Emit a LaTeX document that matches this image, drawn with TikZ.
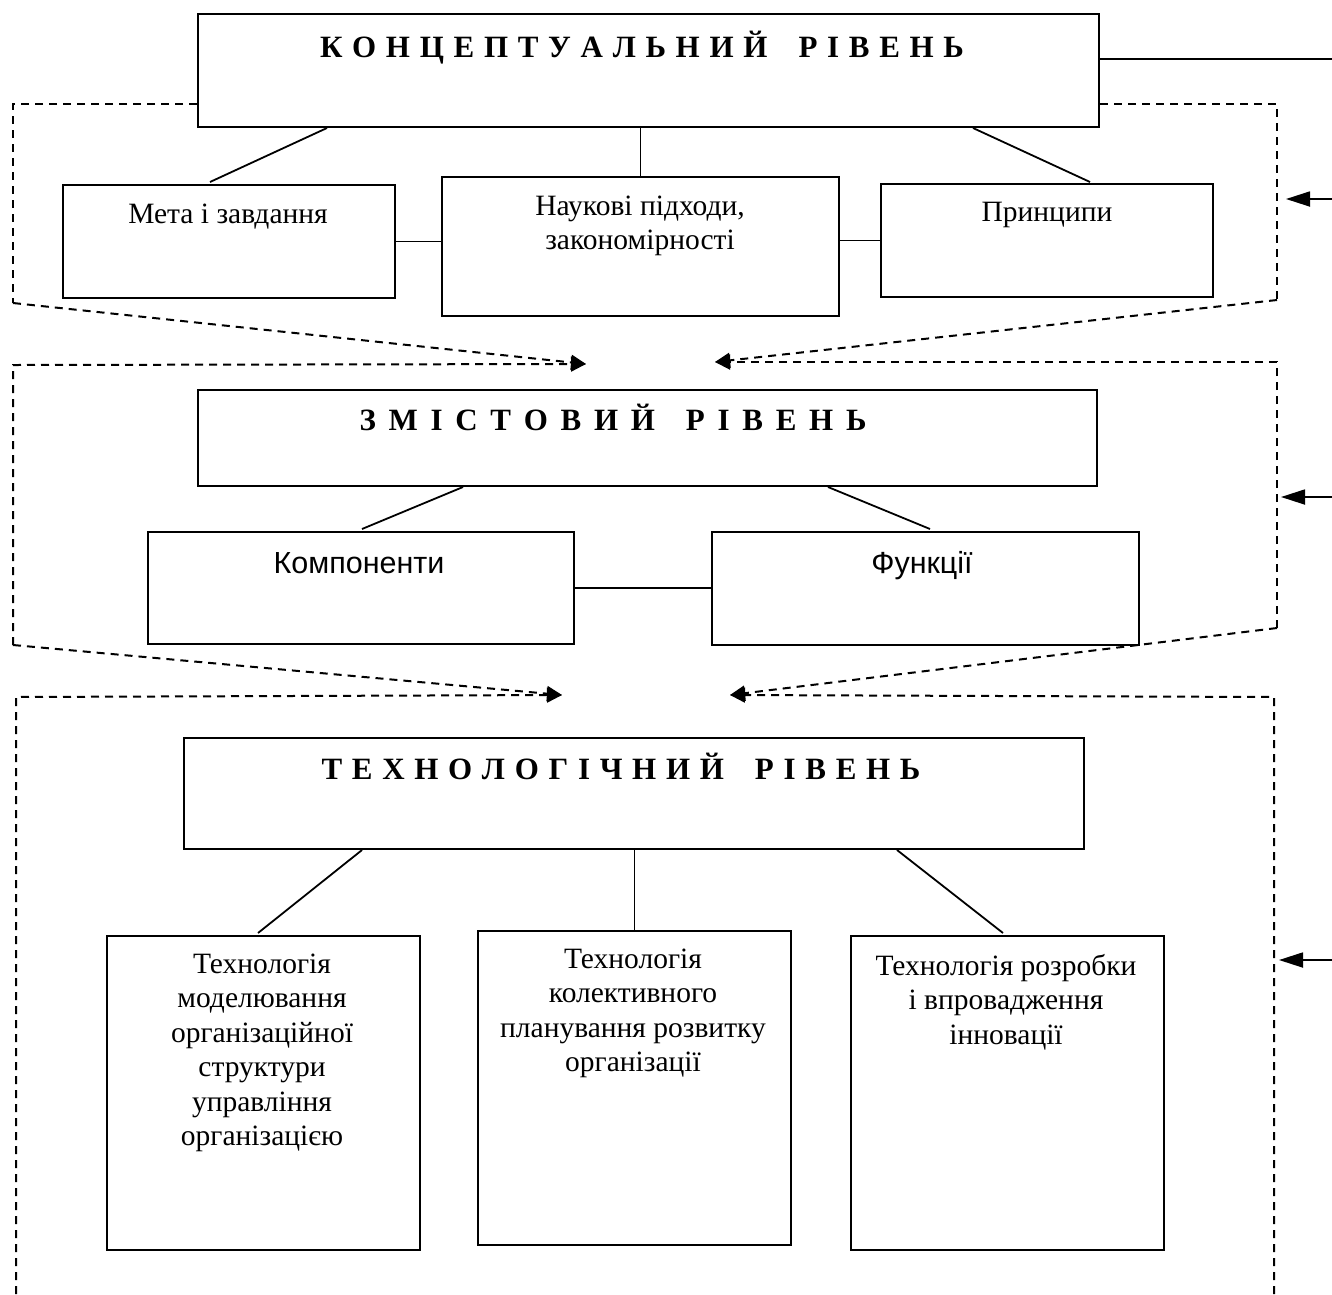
\documentclass[tikz,border=0pt]{standalone}
\usepackage{fontspec}
\setmainfont{Liberation Serif}
\newfontfamily\sansf{Liberation Sans}
\usetikzlibrary{arrows.meta,calc}
\begin{document}
\begin{tikzpicture}[x=1pt,y=-1pt,
  box/.style={draw, line width=2pt, inner sep=0pt, anchor=north west},
  lbl/.style={inner sep=0pt, align=center, font=\fontsize{29.5}{34.5}\selectfont, anchor=north},
  slbl/.style={inner sep=0pt, font=\sansf\fontsize{30.5}{34}\selectfont, anchor=base},
  ttl/.style={inner sep=0pt, font=\fontsize{31}{36}\selectfont\bfseries\addfontfeature{LetterSpace=6.3}, anchor=base},
  ttlw/.style={inner sep=0pt, font=\fontsize{31}{36}\selectfont\bfseries\addfontfeature{LetterSpace=16}, anchor=base},
  conn/.style={line width=1.8pt},
  dl/.style={line width=2pt, dash pattern=on 8pt off 6pt},
  tip/.style={-{Triangle[length=15pt,width=15pt]}},
  rtip/.style={-{Triangle[length=24pt,width=15pt]}},
]
\useasboundingbox (0,0) rectangle (1332,1294);

% ---------- conceptual level ----------
\node[box, minimum width=901pt, minimum height=113pt] (t1) at (197,13) {};
\node[ttl] (t1l) at (642,57) {К О Н Ц Е П Т У А Л Ь Н И Й\quad Р І В Е Н Ь};
\node[box, minimum width=332pt, minimum height=113pt] (m1) at (62,184) {};
\node[box, minimum width=397pt, minimum height=139pt] (n1) at (441,176) {};
\node[box, minimum width=332pt, minimum height=113pt] (p1) at (880,183) {};
\node[lbl] (m1l) at (228,198.8) {\strut Мета і завдання};
\node[lbl] (n1l) at (640,190.8) {\strut Наукові підходи,\\ закономірності};
\node[lbl] (p1l) at (1047,196.8) {\strut Принципи};

\draw[conn] ($(t1.south west)+(130,0)$) -- ($(m1.north west)+(148,-2)$);
\draw[conn] (n1.north |- t1.south) -- (n1.north);
\draw[conn] ($(t1.south west)+(776,0)$) -- ($(p1.north west)+(210,-1)$);
\draw[conn] (m1.east) -- (m1.east -| n1.west);
\draw[conn] (p1.west -| n1.east) -- (p1.west);

% ---------- content level ----------
\node[box, minimum width=899pt, minimum height=96pt] (s1) at (197,389) {};
\node[ttlw] (s1l) at (613,430) {З М І С Т О В И Й\quad Р І В Е Н Ь};
\node[box, minimum width=426pt, minimum height=112pt] (k1) at (147,531) {};
\node[box, minimum width=427pt, minimum height=113pt] (f1) at (711,531) {};
\node[slbl] (k1l) at (359,573) {Компоненти};
\node[slbl] (f1l) at (922,573) {Функції};

\draw[conn] ($(s1.south west)+(266,0)$) -- ($(k1.north west)+(215,-2)$);
\draw[conn] ($(s1.south west)+(631,0)$) -- ($(f1.north west)+(219,-2)$);
\draw[conn] (k1.east) -- (k1.east -| f1.west);

% ---------- technological level ----------
\node[box, minimum width=900pt, minimum height=111pt] (tt) at (183,737) {};
\node[ttl] (ttl) at (621,779) {Т Е Х Н О Л О Г І Ч Н И Й\quad Р І В Е Н Ь};
\node[box, minimum width=313pt, minimum height=314pt] (l1) at (106,935) {};
\node[box, minimum width=313pt, minimum height=314pt] (l2) at (477,930) {};
\node[box, minimum width=313pt, minimum height=314pt] (l3) at (850,935) {};
\node[lbl] (l1l) at (262,948.8) {\strut Технологія\\ моделювання\\ організаційної\\ структури\\ управління\\ організацією};
\node[lbl] (l2l) at (633,943.8) {\strut Технологія\\ колективного\\ планування розвитку\\ організації};
\node[lbl] (l3l) at (1006,950.8) {\strut Технологія розробки\\ і впровадження\\ інновації};

\draw[conn] ($(tt.south west)+(179,0)$) -- ($(l1.north west)+(152,-2)$);
\draw[conn] (l2.north |- tt.south) -- (l2.north);
\draw[conn] ($(tt.south west)+(714,0)$) -- ($(l3.north west)+(153,-2)$);

% ---------- right-hand arrows ----------
\coordinate (r0) at (1332,59);
\draw[conn] (t1.north east |- r0) -- (r0);
\coordinate (r1) at (1332,199);  \coordinate (r1e) at (1286,199);
\coordinate (r2) at (1332,497);  \coordinate (r2e) at (1281,497);
\coordinate (r3) at (1332,960);  \coordinate (r3e) at (1279,960);
\draw[conn,rtip] (r1) -- (r1e);
\draw[conn,rtip] (r2) -- (r2e);
\draw[conn,rtip] (r3) -- (r3e);

% ---------- dashed frames ----------
\coordinate (f1tl) at (13,104);   \coordinate (f1bl) at (13,303);
\coordinate (f1tr) at (1277,104); \coordinate (f1br) at (1277,300);
\coordinate (f2tl) at (13,365);   \coordinate (f2bl) at (13,645);
\coordinate (f2tr) at (1277,362); \coordinate (f2br) at (1277,628);
\coordinate (f3tl) at (16,697);   \coordinate (f3bl) at (16,1294);
\coordinate (f3tr) at (1274,697); \coordinate (f3br) at (1274,1294);
\coordinate (a1l) at (586,364);   \coordinate (a1r) at (715,362);
\coordinate (a2l) at (562,695);   \coordinate (a2r) at (730,695);

\draw[dl] (t1.west |- f1tl) -- (f1tl) -- (f1bl);
\draw[dl] (t1.east |- f1tr) -- (f1tr) -- (f1br);
\draw[dl,tip] (f1bl) -- (a1l);
\draw[dl,tip] (f1br) -- (a1r);
\draw[dl,tip] (f2bl) -- (f2tl) -- (a1l);
\draw[dl,tip] (f2br) -- (f2tr) -- (a1r);
\draw[dl,tip] (f2bl) -- (a2l);
\draw[dl,tip] (f2br) -- (a2r);
\draw[dl,tip] (f3bl) -- (f3tl) -- (a2l);
\draw[dl,tip] (f3br) -- (f3tr) -- (a2r);
\end{tikzpicture}
\end{document}
